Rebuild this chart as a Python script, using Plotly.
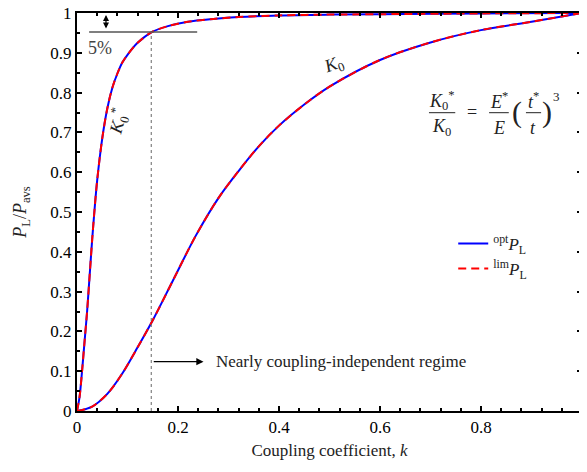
import plotly.graph_objects as go

# Data
k_fast = [0, 0.005, 0.01, 0.015, 0.02, 0.025, 0.03, 0.035, 0.04, 0.05, 0.06, 0.07, 0.08, 0.09,
          0.1, 0.12, 0.148, 0.18, 0.22, 0.27, 0.32, 0.4, 0.5, 0.6, 0.8, 1.0]
p_fast = [0, 0.035, 0.10, 0.175, 0.25, 0.34, 0.43, 0.51, 0.58, 0.685, 0.76, 0.812, 0.848, 0.876,
          0.895, 0.925, 0.952, 0.967, 0.978, 0.985, 0.99, 0.994, 0.996, 0.997, 0.999, 1.0]

k_slow = [0, 0.03, 0.06, 0.09, 0.12, 0.15, 0.19, 0.235, 0.28, 0.32, 0.36, 0.40, 0.45, 0.5,
          0.6, 0.7, 0.8, 0.9, 1.0]
p_slow = [0, 0.011, 0.043, 0.095, 0.160, 0.228, 0.328, 0.44, 0.535, 0.603, 0.665, 0.717, 0.77, 0.815,
          0.882, 0.926, 0.957, 0.978, 1.0]

x_ticks = [0, 0.2, 0.4, 0.6, 0.8, 1]
x_ticklabels = ["0", "0.2", "0.4", "0.6", "0.8", "1"]
y_ticks = [0, 0.1, 0.2, 0.3, 0.4, 0.5, 0.6, 0.7, 0.8, 0.9, 1]
y_ticklabels = ["0", "0.1", "0.2", "0.3", "0.4", "0.5", "0.6", "0.7", "0.8", "0.9", "1"]

FONT = "Liberation Serif"
BLUE = "#0000ff"
RED = "#ff0000"

fig = go.Figure()
for kk, pp, show in [(k_fast, p_fast, True), (k_slow, p_slow, False)]:
    fig.add_trace(go.Scatter(x=kk, y=pp, mode="lines", line=dict(color=BLUE, width=2, shape="spline", smoothing=0.9),
                             name="<sup>opt</sup><i>P</i><sub>L</sub>", showlegend=show, legendgroup="opt"))
for kk, pp, show in [(k_fast, p_fast, True), (k_slow, p_slow, False)]:
    fig.add_trace(go.Scatter(x=kk, y=pp, mode="lines",
                             line=dict(color=RED, width=2, dash="8px,5px", shape="spline", smoothing=0.9),
                             name="<sup>lim</sup><i>P</i><sub>L</sub>", showlegend=show, legendgroup="lim"))

axis_common = dict(showline=True, linecolor="black", linewidth=2, mirror="ticks", ticks="inside",
                   ticklen=5, tickwidth=1.5, tickcolor="black", showgrid=False, zeroline=False,
                   automargin=False, ticklabeloverflow="allow",
                   tickfont=dict(family=FONT, size=17, color="black"))
# the last x label sits on the page edge; it is drawn as an annotation at the axis end below
x_ticktext_axis = x_ticklabels[:-1] + [""]
fig.update_xaxes(range=[0, 1], tickvals=x_ticks, ticktext=x_ticktext_axis,
                 minor=dict(dtick=0.04, ticks="inside", ticklen=3, tickcolor="black", showgrid=False),
                 title=dict(text="Coupling coefficient, <i>k</i>", font=dict(family=FONT, size=17, color="#222"), standoff=13),
                 **axis_common)
fig.update_yaxes(range=[0, 1], tickvals=y_ticks, ticktext=y_ticklabels,
                 minor=dict(dtick=0.05, ticks="inside", ticklen=3, tickcolor="black", showgrid=False),
                 title=dict(text="<i>P</i><sub>L</sub>/<i>P</i><sub>avs</sub>", font=dict(family=FONT, size=18, color="#222"), standoff=19),
                 **axis_common)

# shapes
fig.add_shape(type="line", x0=0.024, x1=0.238, y0=0.952, y1=0.952, line=dict(color="#555", width=1.5))
fig.add_shape(type="line", x0=0.147, x1=0.147, y0=0, y1=0.952, line=dict(color="#666", width=1, dash="dot"))

ann = []
ann.append(dict(x=1, y=0, xref="paper", yref="paper", text=x_ticklabels[-1], showarrow=False,
                xanchor="center", yanchor="top", yshift=-7, font=dict(family=FONT, size=17, color="black")))
# double arrow 5%
ann.append(dict(x=0.0574, y=0.995, ax=0.0574, ay=0.957, xref="x", yref="y", axref="x", ayref="y",
                text="", showarrow=True, arrowhead=2, arrowside="end+start", arrowsize=1, arrowwidth=1.2, arrowcolor="black"))
ann.append(dict(x=0.0455, y=0.913, text="5%", showarrow=False, font=dict(family=FONT, size=18, color="#444")))
# nearly coupling independent regime arrow
ann.append(dict(x=0.2505, y=0.124, ax=0.149, ay=0.124, xref="x", yref="y", axref="x", ayref="y",
                text="", showarrow=True, arrowhead=2, arrowsize=1.2, arrowwidth=1.2, arrowcolor="black"))
ann.append(dict(x=0.271, y=0.124, text="Nearly coupling-independent regime", showarrow=False, xanchor="left",
                font=dict(family=FONT, size=17, color="#222")))
# curve labels
ann.append(dict(x=0.507, y=0.869, text="<i>K</i><sub>0</sub>", showarrow=False, textangle=-20,
                font=dict(family=FONT, size=18, color="#222")))
ann.append(dict(x=0.081, y=0.728, text="<i>K</i><sub>0</sub><sup>*</sup>", showarrow=False, textangle=-75,
                font=dict(family=FONT, size=18, color="#222")))
# equation
ef = dict(family=FONT, size=18, color="#222")
for (xx, yy, tt) in [(0.722, 0.780, "<i>K</i><sub>0</sub><sup>*</sup>"), (0.722, 0.712, "<i>K</i><sub>0</sub>"),
                     (0.782, 0.751, "="), (0.836, 0.780, "<i>E</i><sup>*</sup>"), (0.836, 0.712, "<i>E</i>"),
                     (0.903, 0.780, "<i>t</i><sup>*</sup>"), (0.903, 0.712, "<i>t</i>")]:
    ann.append(dict(x=xx, y=yy, text=tt, showarrow=False, font=ef))
ann.append(dict(x=0.871, y=0.751, text="(", showarrow=False, font=dict(family=FONT, size=30, color="#222")))
ann.append(dict(x=0.931, y=0.751, text=")", showarrow=False, font=dict(family=FONT, size=30, color="#222")))
ann.append(dict(x=0.950, y=0.790, text="3", showarrow=False, font=dict(family=FONT, size=13, color="#222")))
fig.update_layout(annotations=ann)
for (a, b) in [(0.697, 0.749), (0.816, 0.855), (0.889, 0.919)]:
    fig.add_shape(type="line", x0=a, x1=b, y0=0.7495, y1=0.7495, line=dict(color="#222", width=1))

# page body has an 8px margin, so the figure is shrunk and margins offset to keep the plot area in place
fig.update_layout(
    width=579, height=452,
    margin=dict(l=69, r=5, t=5, b=49),
    paper_bgcolor="white", plot_bgcolor="white",
    showlegend=True,
    legend=dict(x=0.745, y=0.465, xanchor="left", yanchor="top", bgcolor="rgba(0,0,0,0)",
                font=dict(family=FONT, size=17, color="#222"), tracegroupgap=0),
)

fig.write_html("out.html")
